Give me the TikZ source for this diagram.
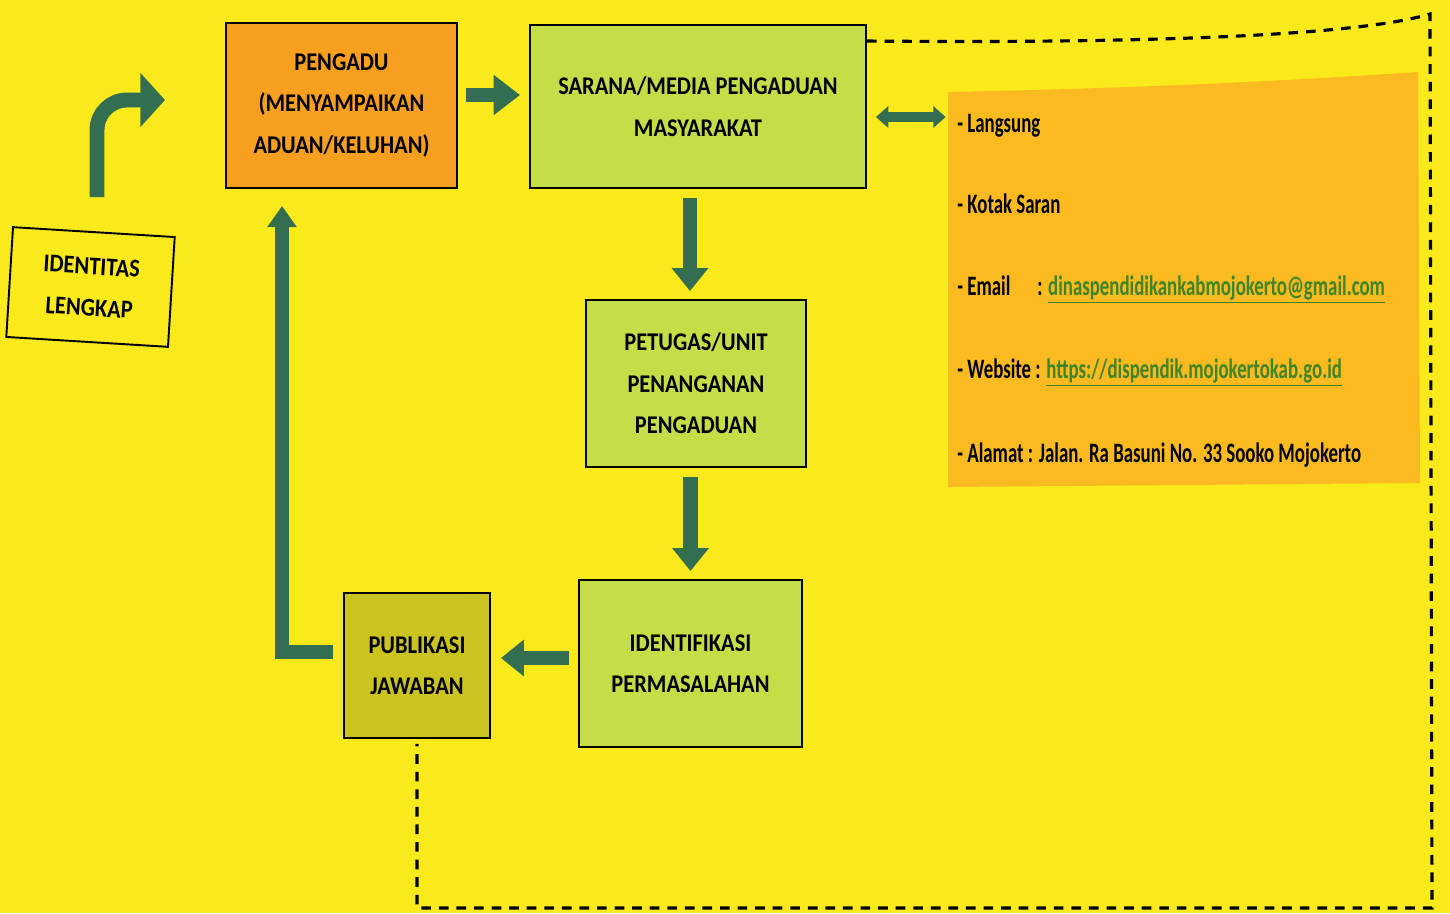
\documentclass[tikz,border=0pt]{standalone}
\usepackage{fontspec}
\setmainfont{Carlito}
\newfontfamily\boxfont[FakeStretch=0.88]{Carlito}
\newfontfamily\infofont[FakeStretch=0.67]{Carlito}
\usetikzlibrary{arrows.meta}
\definecolor{bgyellow}{RGB}{250,234,28}
\definecolor{orangebox}{RGB}{247,160,32}
\definecolor{greenbox}{RGB}{197,222,72}
\definecolor{olivebox}{RGB}{203,196,32}
\definecolor{infobg}{RGB}{250,186,32}
\definecolor{arrowgreen}{RGB}{52,110,80}
\definecolor{linkgreen}{RGB}{64,132,40}
\begin{document}
\begin{tikzpicture}[x=0.02cm,y=-0.02cm,
  box/.style={draw=black, line width=1.1pt, align=center, inner sep=0pt,
    font=\boxfont\bfseries\fontsize{14.5}{23.6}\selectfont},
  sz/.style 2 args={minimum width=#1*0.02cm, minimum height=#2*0.02cm},
  flow/.style={draw=arrowgreen, line width=8pt, line join=miter,
    -{Triangle[width=20pt,length=13pt]}},
  infotext/.style={anchor=base west, inner sep=0pt,
    font=\infofont\bfseries\fontsize{16}{19}\selectfont},
  dashline/.style={draw=black, line width=1.8pt, dash pattern=on 5.5pt off 4.5pt}]
\fill[bgyellow] (0,0) rectangle (1450,913);
\useasboundingbox (0,0) rectangle (1450,913);

% info panel
\fill[infobg] (948,92) .. controls (1150,88) and (1300,80) .. (1418,72)
  -- (1420,483) -- (948,487) -- cycle;
\node[sz={470}{400}, inner sep=0pt] (info) at (1183,285) {};

% boxes
\node[box, fill=bgyellow, sz={162}{110}, rotate=-3.5] (iden) at (90.5,287) {IDENTITAS\\LENGKAP};
\node[box, fill=orangebox, sz={231}{165}] (peng) at (341.5,105.5) {PENGADU\\(MENYAMPAIKAN\\ADUAN/KELUHAN)};
\node[box, fill=greenbox, sz={336}{163}] (sar) at (698,106.5) {SARANA/MEDIA PENGADUAN\\MASYARAKAT};
\node[box, fill=greenbox, sz={220}{167}] (pet) at (696,383.5) {PETUGAS/UNIT\\PENANGANAN\\PENGADUAN};
\node[box, fill=greenbox, sz={223}{167}] (ide) at (690.5,663.5) {IDENTIFIKASI\\PERMASALAHAN};
\node[box, fill=olivebox, sz={146}{145}] (pub) at (417,665.5) {PUBLIKASI\\JAWABAN};

% info text
\node[infotext] (l1) at (957,132) {- Langsung};
\node[infotext] (l2) at (957,213) {- Kotak Saran};
\node[infotext] (l3) at (957,295) {\makebox[45.5pt][l]{- Email}: {\color{linkgreen}\underline{dinaspendidikankabmojokerto@gmail.com}}};
\node[infotext] (l4) at (957,378) {- Website : {\color{linkgreen}\underline{https://dispendik.mojokertokab.go.id}}};
\node[infotext] (l5) at (957,462) {- Alamat : Jalan. Ra Basuni No. 33 Sooko Mojokerto};

% dashed frame
\coordinate (g) at (1432,908);
\draw[dashline] ([yshift=-0.34cm]sar.north east) .. controls (1200,44) and (1370,32) .. (1430,14)
  -- (g) -- (pub.south |- g) -- ([yshift=-0.1cm]pub.south);

% arrows
\coordinate (e0) at (97,197);
\coordinate (e1) at (165,100);
\draw[draw=arrowgreen, line width=8.5pt, rounded corners=0.6cm,
  -{Triangle[width=30pt,length=14pt]}] (e0) |- (e1);

\coordinate (a1) at ([yshift=0.21cm]peng.east);
\draw[flow, line width=8.5pt, -{Triangle[width=22pt,length=15pt]}, shorten <=0.16cm, shorten >=0.18cm] (a1) -- (a1 -| sar.west);

\coordinate (b1) at ([xshift=-0.16cm]sar.south);
\draw[flow, shorten <=0.18cm, shorten >=0.16cm] (b1) -- (b1 |- pet.north);
\draw[flow, shorten <=0.18cm, shorten >=0.16cm] (ide.north |- pet.south) -- (ide.north);

\coordinate (c1) at ([yshift=0.11cm]ide.west);
\draw[flow, shorten <=0.18cm, shorten >=0.2cm] (c1) -- (c1 -| pub.east);

\coordinate (d0) at ([yshift=0.27cm]pub.west);
\coordinate (d1) at ([xshift=1.14cm]peng.south west);
\draw[flow, -{Triangle[width=16pt,length=12pt]}, shorten <=0.2cm, shorten >=0.34cm] (d0) -- (d0 -| d1) -- (d1);

\coordinate (s1) at ([yshift=-0.21cm]sar.east);
\draw[draw=arrowgreen, line width=5.7pt, {Triangle[width=12pt,length=7pt]}-{Triangle[width=12pt,length=7pt]},
  shorten <=0.18cm, shorten >=0.04cm] (s1) -- (s1 -| info.west);
\end{tikzpicture}
\end{document}
